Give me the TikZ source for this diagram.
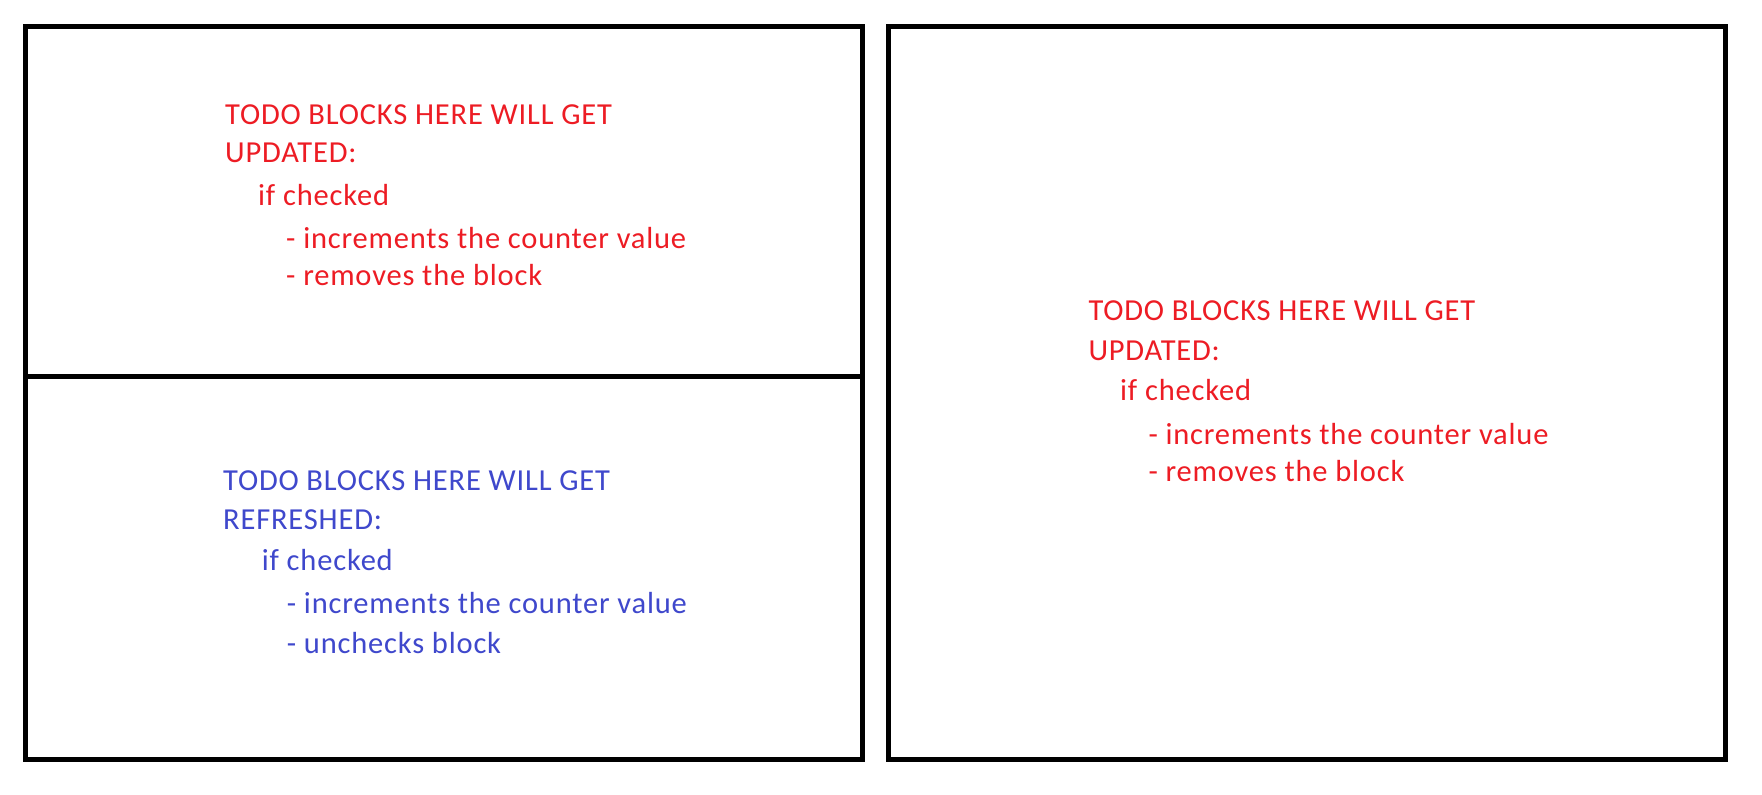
\documentclass[tikz,border=0pt]{standalone}
\usepackage{fontspec}
\setmainfont{Carlito}[LetterSpace=2.7]
\definecolor{pred}{RGB}{237,28,36}
\definecolor{pblue}{RGB}{63,72,204}
\tikzset{
  frame/.style={draw=black, line width=5pt},
  txt/.style={anchor=base west, inner sep=0pt, font=\fontsize{30.5}{36}\selectfont},
  redtxt/.style={txt, text=pred},
  bluetxt/.style={txt, text=pblue}
}
\begin{document}
\begin{tikzpicture}[x=1pt,y=-1pt]
\useasboundingbox[fill=white] (0,0) rectangle (1762,795);
% frames
\draw[frame] (25.5,26.5) rectangle (862.5,759);
\coordinate (dl) at (25.5,376);
\coordinate (dr) at (862.5,376);
\draw[frame] (dl) -- (dr);
\draw[frame] (888.5,26.5) rectangle (1725,759);
% top-left block
\node[redtxt] (a1) at (225,124.3) {TODO BLOCKS HERE WILL GET};
\node[redtxt] (a2) at (225,162.7) {UPDATED:};
\node[redtxt] (a3) at (258,205) {if checked};
\node[redtxt] (a4) at (286,248.3) {- increments the counter value};
\node[redtxt] (a5) at (286,285) {- removes the block};
% bottom-left block
\node[bluetxt] (b1) at (223,490.7) {TODO BLOCKS HERE WILL GET};
\node[bluetxt] (b2) at (223,529) {REFRESHED:};
\node[bluetxt] (b3) at (261.7,570) {if checked};
\node[bluetxt] (b4) at (286.7,613.3) {- increments the counter value};
\node[bluetxt] (b5) at (286.7,653.3) {- unchecks block};
% right block
\node[redtxt] (c1) at (1088.3,320.7) {TODO BLOCKS HERE WILL GET};
\node[redtxt] (c2) at (1088.3,360) {UPDATED:};
\node[redtxt] (c3) at (1120,400.7) {if checked};
\node[redtxt] (c4) at (1148.3,444.3) {- increments the counter value};
\node[redtxt] (c5) at (1148.3,481.7) {- removes the block};
\end{tikzpicture}
\end{document}
